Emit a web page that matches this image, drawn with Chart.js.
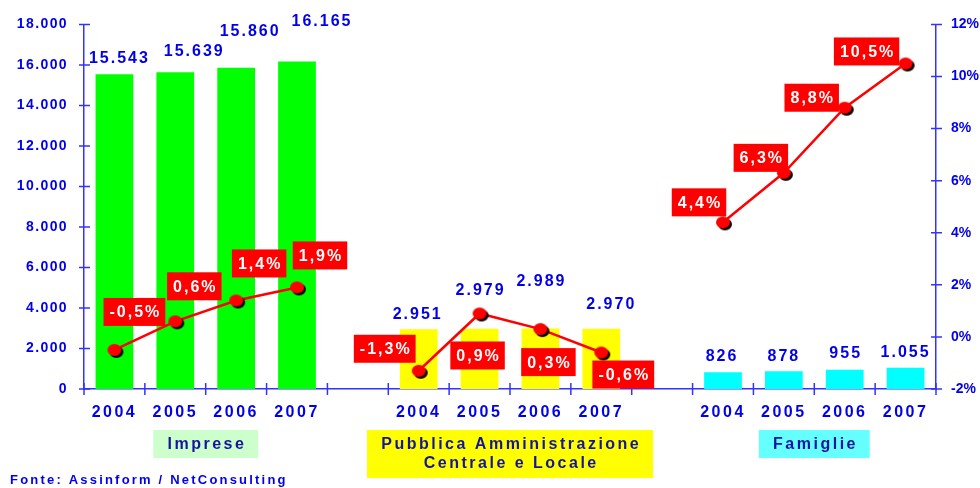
<!DOCTYPE html>
<html>
<head>
<meta charset="utf-8">
<script src="https://cdn.jsdelivr.net/npm/chart.js@4.4.1/dist/chart.umd.min.js"></script>
<style>
  html, body { margin: 0; padding: 0; background: #ffffff; }
  #wrap { width: 980px; height: 488px; position: relative; }
</style>
</head>
<body>
<div id="wrap"><canvas id="chart"></canvas></div>
<script>
// Data
const years = ["2004", "2005", "2006", "2007"];
const groups = ["Imprese", "Pubblica Amministrazione\nCentrale e Locale", "Famiglie"];
const impreseValues = [15543, 15639, 15860, 16165];
const paValues = [2951, 2979, 2989, 2970];
const famiglieValues = [826, 878, 955, 1055];
const impreseGrowth = [-0.5, 0.6, 1.4, 1.9];
const paGrowth = [-1.3, 0.9, 0.3, -0.6];
const famiglieGrowth = [4.4, 6.3, 8.8, 10.5];
const leftTicks = [0, 2000, 4000, 6000, 8000, 10000, 12000, 14000, 16000, 18000];
const rightTicks = [-2, 0, 2, 4, 6, 8, 10, 12];
const source = "Fonte: Assinform / NetConsulting";

const barColors = ["#00ff00", "#ffff00", "#00ffff"];
const titleColors = ["#ccffcc", "#ffff00", "#66ffff"];
const BLUE = "#0000ee";
const NAVY = "#1414a0";
const FONT = "'Liberation Sans', Arial, sans-serif";

// label placement relative to bar top / line point (layout only)
const valueLabelShift = [
  [4, -16], [18, -21], [13, -36], [24, -40],
  [-2, -15], [0, -38], [0, -47], [9, -24],
  [-2, -16], [-1, -15], [0, -16], [-1, -15]
];
const growthLabelShift = [
  [20, -38], [19, -35], [23, -37], [23, -32],
  [-34, -22], [-2, 42], [8, 33], [22, 22],
  [-24, -20], [-23, -15], [-33, -10], [-39, -12]
];
// letter spacing of tick labels, per axis
const axisSpacing = { x: "2.5px", y: "1.4px", y1: "0px" };

// build the 14 slots: 4 years + a blank between groups
const labels = [];
const barData = [];
const lineData = [];
const slotColors = [];
const valueGroups = [impreseValues, paValues, famiglieValues];
const growthGroups = [impreseGrowth, paGrowth, famiglieGrowth];
valueGroups.forEach((vals, g) => {
  if (g > 0) {
    labels.push("");
    barData.push(null);
    lineData.push(null);
    slotColors.push("transparent");
  }
  years.forEach((y, i) => {
    labels.push(y);
    barData.push(vals[i]);
    lineData.push(growthGroups[g][i]);
    slotColors.push(barColors[g]);
  });
});

function fmtThousands(v) {
  return Math.round(v).toString().replace(/\B(?=(\d{3})+(?!\d))/g, ".");
}
function fmtPct(v) {
  return v.toFixed(1).replace(".", ",") + "%";
}

// point marker: red ellipse with a black drop shadow
function makeMarker() {
  const c = document.createElement("canvas");
  c.width = 22;
  c.height = 20;
  const g = c.getContext("2d");
  g.fillStyle = "#000000";
  g.beginPath();
  g.ellipse(13, 12, 7, 6, 0, 0, Math.PI * 2);
  g.fill();
  g.fillStyle = "#ff0000";
  g.beginPath();
  g.ellipse(11, 10, 7, 6, 0, 0, Math.PI * 2);
  g.fill();
  return c;
}

function spacedText(ctx, text, x, y, spacing) {
  ctx.letterSpacing = spacing + "px";
  ctx.fillText(text, x + spacing / 2, y);
}

const decorations = {
  id: "decorations",
  afterUpdate(chart) {
    // give each axis its own letter spacing while its labels draw
    Object.keys(axisSpacing).forEach(id => {
      const s = chart.scales[id];
      if (!s || s._spaced) return;
      const orig = s.drawLabels.bind(s);
      s.drawLabels = area => {
        chart.ctx.save();
        chart.ctx.letterSpacing = axisSpacing[id];
        orig(area);
        chart.ctx.restore();
      };
      s._spaced = true;
    });
  },
  afterDraw(chart) {
    const ctx = chart.ctx;
    const { x, y, y1 } = chart.scales;
    ctx.save();

    // tick marks crossing the axes
    ctx.strokeStyle = "#3333ff";
    ctx.lineWidth = 1.5;
    ctx.beginPath();
    leftTicks.forEach(t => {
      const py = y.getPixelForValue(t);
      ctx.moveTo(y.right - 5, py);
      ctx.lineTo(y.right + 6, py);
    });
    rightTicks.forEach(t => {
      const py = y1.getPixelForValue(t);
      ctx.moveTo(y1.left - 5, py);
      ctx.lineTo(y1.left + 6, py);
    });
    const slot = (x.right - x.left) / labels.length;
    for (let i = 0; i <= labels.length; i++) {
      const px = x.left + i * slot;
      ctx.moveTo(px, x.top - 6);
      ctx.lineTo(px, x.top + 6);
    }
    ctx.stroke();

    const barMeta = chart.getDatasetMeta(0).data;
    const lineMeta = chart.getDatasetMeta(1).data;
    ctx.textAlign = "center";
    ctx.textBaseline = "middle";

    // value labels above bars
    ctx.font = "bold 16px " + FONT;
    ctx.fillStyle = BLUE;
    let k = 0;
    barData.forEach((v, i) => {
      if (v === null) return;
      const el = barMeta[i];
      const s = valueLabelShift[k++];
      spacedText(ctx, fmtThousands(v), el.x + s[0], el.y + s[1], 2);
    });

    // growth labels in red boxes
    k = 0;
    lineData.forEach((v, i) => {
      if (v === null) return;
      const el = lineMeta[i];
      const s = growthLabelShift[k++];
      const txt = fmtPct(v);
      ctx.letterSpacing = "2px";
      const w = ctx.measureText(txt).width + 10;
      const cx = el.x + s[0];
      const cy = el.y + s[1];
      ctx.fillStyle = "#ff0000";
      ctx.fillRect(cx - w / 2, cy - 14, w, 28);
      ctx.fillStyle = "#ffffff";
      spacedText(ctx, txt, cx, cy + 1, 2);
    });

    // group titles under the year labels
    groups.forEach((name, g) => {
      const first = barMeta[g * 5].x;
      const last = barMeta[g * 5 + 3].x;
      const cx = (first + last) / 2;
      const lines = name.split("\n");
      ctx.font = "bold 16px " + FONT;
      ctx.letterSpacing = "2.5px";
      const w = Math.max(...lines.map(l => ctx.measureText(l).width)) + 26;
      const h = lines.length === 1 ? 28 : 48;
      const top = 430;
      ctx.fillStyle = titleColors[g];
      ctx.fillRect(cx - w / 2, top, w, h);
      ctx.fillStyle = NAVY;
      lines.forEach((l, j) => {
        const ly = lines.length === 1 ? top + h / 2 + 1 : top + 15 + j * 19;
        spacedText(ctx, l, cx, ly, 2.5);
      });
    });

    // source line
    ctx.textAlign = "left";
    ctx.textBaseline = "alphabetic";
    ctx.font = "bold 13px " + FONT;
    ctx.fillStyle = BLUE;
    ctx.letterSpacing = "2.2px";
    ctx.fillText(source, 10, 484);

    ctx.restore();
  }
};

new Chart(document.getElementById("chart"), {
  type: "bar",
  data: {
    labels: labels,
    datasets: [
      {
        type: "bar",
        data: barData,
        backgroundColor: slotColors,
        borderWidth: 0,
        barPercentage: 0.62,
        categoryPercentage: 1,
        yAxisID: "y",
        order: 1
      },
      {
        type: "line",
        data: lineData,
        yAxisID: "y1",
        borderColor: "#ff0000",
        borderWidth: 2.5,
        spanGaps: false,
        tension: 0,
        pointStyle: makeMarker(),
        pointRadius: 7,
        order: 0
      }
    ]
  },
  options: {
    responsive: true,
    maintainAspectRatio: false,
    animation: false,
    events: [],
    layout: { padding: { top: 21, left: 0, right: 0, bottom: 0 } },
    plugins: {
      legend: { display: false },
      tooltip: { enabled: false }
    },
    scales: {
      x: {
        offset: true,
        grid: { display: false, drawTicks: false, offset: true },
        border: { display: true, color: "#3333ff", width: 1.5 },
        ticks: {
          color: BLUE,
          font: { family: FONT, size: 16, weight: "bold" },
          padding: 14,
          maxRotation: 0,
          autoSkip: false
        },
        afterFit(scale) { scale.height = 99; }
      },
      y: {
        position: "left",
        min: 0,
        max: 18000,
        afterBuildTicks(scale) { scale.ticks = leftTicks.map(v => ({ value: v })); },
        grid: { display: false, drawTicks: false },
        border: { display: true, color: "#3333ff", width: 1.5 },
        ticks: {
          color: BLUE,
          font: { family: FONT, size: 14, weight: "bold" },
          padding: 16,
          callback: v => fmtThousands(v)
        },
        afterFit(scale) { scale.width = 84; }
      },
      y1: {
        position: "right",
        min: -2,
        max: 12,
        afterBuildTicks(scale) { scale.ticks = rightTicks.map(v => ({ value: v })); },
        grid: { display: false, drawTicks: false },
        border: { display: true, color: "#3333ff", width: 1.5 },
        ticks: {
          color: BLUE,
          font: { family: FONT, size: 14, weight: "bold" },
          padding: 15,
          callback: v => v + "%"
        },
        afterFit(scale) { scale.width = 44; }
      }
    }
  },
  plugins: [decorations]
});
</script>
</body>
</html>
